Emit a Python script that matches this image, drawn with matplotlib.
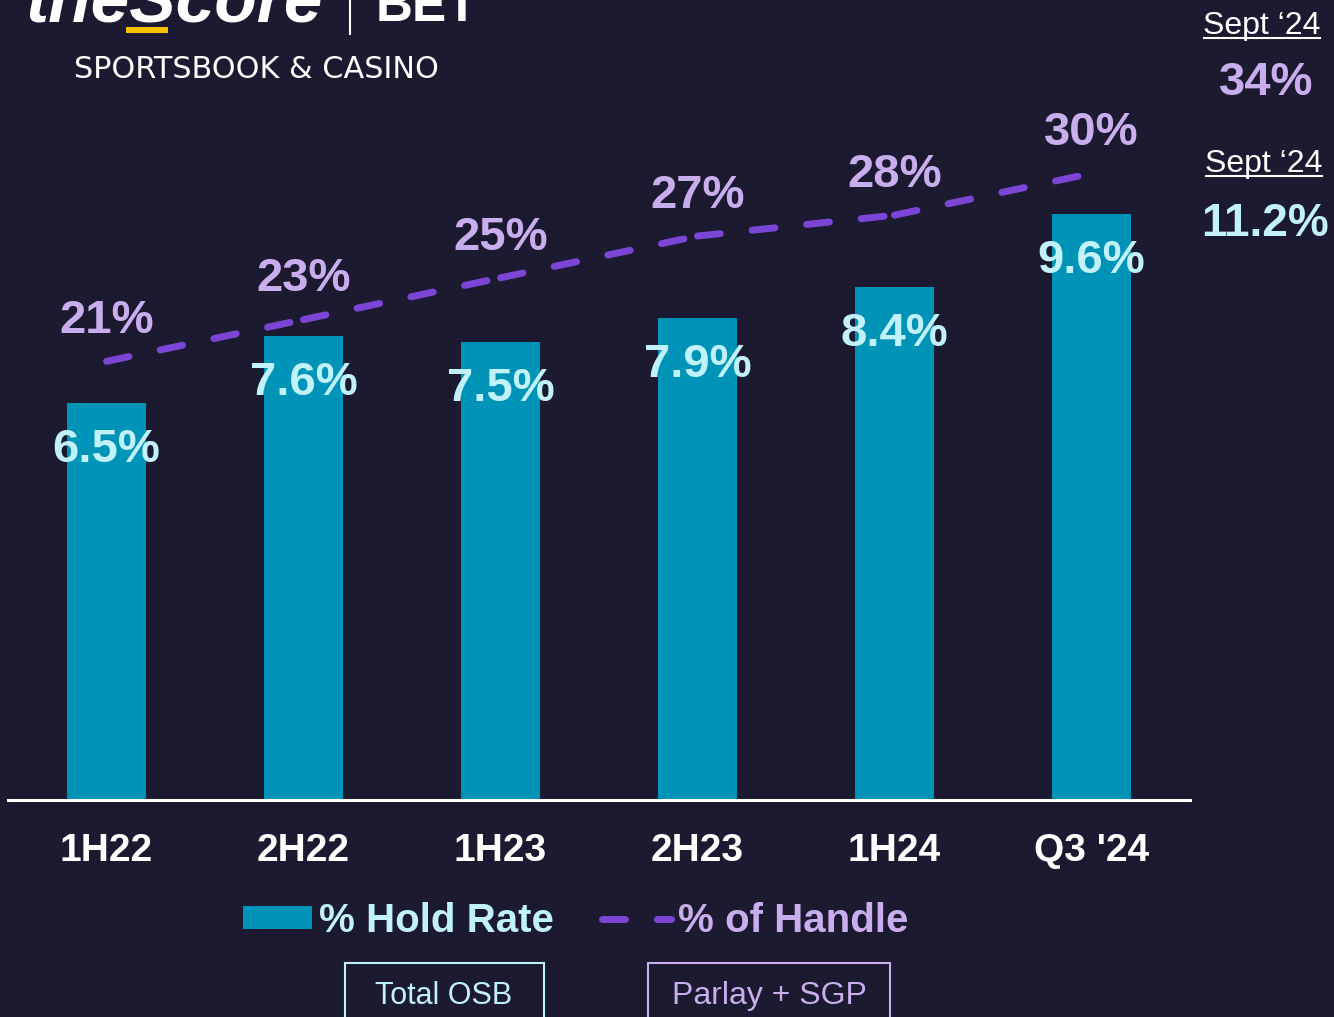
import matplotlib
matplotlib.use('Agg')
import matplotlib.pyplot as plt
from matplotlib.patches import Rectangle
from matplotlib.lines import Line2D

# data
periods = ['1H22', '2H22', '1H23', '2H23', '1H24', "Q3 '24"]
hold_rate = [6.5, 7.6, 7.5, 7.9, 8.4, 9.6]          # % Hold Rate, Total OSB
handle_share = [21, 23, 25, 27, 28, 30]             # % of Handle, Parlay + SGP
sept_handle = 34
sept_hold = 11.2

BG = '#1c1a30'
TEAL = '#0093b8'
PURPLE = '#7b45d6'
LILAC = '#c8aeec'
ICE = '#c1f2fc'
W, H = 1334, 1017

plt.rcParams['font.family'] = ['Liberation Sans', 'DejaVu Sans']


def fx(x):
    return x / W


def fy(y):
    return 1 - y / H


fig = plt.figure(figsize=(W / 100, H / 100), dpi=100, facecolor=BG)
ax = fig.add_axes([fx(8), fy(800), 1182 / W, 800 / H])
ax.set_facecolor('none')
ax2 = ax.twinx()

x = list(range(len(periods)))
bars = ax.bar(x, hold_rate, width=0.4, color=TEAL, zorder=2, label='% Hold Rate')
ax.set_xlim(-0.5, 5.5)
ax.set_ylim(0, 13.1)
ax2.set_ylim(0, 38.3)

for i, v in enumerate(hold_rate):
    ax.annotate(f'{v:.1f}%', (i, v), xytext=(0, -34), textcoords='offset points',
                ha='center', va='center', fontsize=34, fontweight='bold', color=ICE, zorder=3)

# dashed line, pattern restarts at every point (as in the slide)
for i in range(len(x) - 1):
    ax2.plot(x[i:i + 2], handle_share[i:i + 2], color=PURPLE, lw=5, dashes=(3.3, 4.6),
             solid_capstyle='round', dash_capstyle='round', zorder=4)
for i, v in enumerate(handle_share):
    ax2.annotate(f'{v}%', (i, v), xytext=(0, 29), textcoords='offset points',
                 ha='center', va='center', fontsize=34, fontweight='bold', color=LILAC)

for a in (ax, ax2):
    for s in ['top', 'right', 'left']:
        a.spines[s].set_visible(False)
    a.set_yticks([])
ax2.spines['bottom'].set_visible(False)
ax.spines['bottom'].set_color('white')
ax.spines['bottom'].set_linewidth(2.2)
ax.set_xticks(x)
ax.set_xticklabels(periods, fontsize=28, fontweight='bold', color='white')
ax.tick_params(axis='x', length=0, pad=24)

# legend
line_handle = Line2D([0], [0], color=PURPLE, lw=5, dashes=(3.3, 4.6), dash_capstyle='round')
leg = fig.legend([bars, line_handle], ['% Hold Rate', '% of Handle'], loc='center',
                 bbox_to_anchor=(fx(576), fy(921)), ncol=2, frameon=False,
                 prop={'size': 29, 'weight': 'bold'}, handlelength=1.7, handleheight=0.5,
                 handletextpad=0.18, columnspacing=1.2)
for t, c in zip(leg.get_texts(), [ICE, LILAC]):
    t.set_color(c)

# boxes under legend
fig.add_artist(Rectangle((fx(345), fy(1030)), 199 / W, 67 / H, transform=fig.transFigure,
                         fill=False, edgecolor=ICE, lw=1.5))
fig.text(fx(444), fy(996), 'Total OSB', ha='center', va='center', fontsize=22, color=ICE)
fig.add_artist(Rectangle((fx(648), fy(1030)), 242 / W, 67 / H, transform=fig.transFigure,
                         fill=False, edgecolor=LILAC, lw=1.5))
fig.text(fx(769), fy(996), 'Parlay + SGP', ha='center', va='center', fontsize=23, color=LILAC)

# Sept '24 callouts
fig.text(fx(1262), fy(26), 'Sept \u201824', ha='center', va='center', fontsize=23, color='white')
fig.add_artist(Line2D([fx(1204), fx(1320)], [fy(38), fy(38)], transform=fig.transFigure,
                      color='white', lw=1.5))
fig.text(fx(1266), fy(83), f'{sept_handle}%', ha='center', va='center', fontsize=34,
         fontweight='bold', color=LILAC)
fig.text(fx(1264), fy(164), 'Sept \u201824', ha='center', va='center', fontsize=23, color='white')
fig.add_artist(Line2D([fx(1206), fx(1322)], [fy(176), fy(176)], transform=fig.transFigure,
                      color='white', lw=1.5))
fig.text(fx(1265), fy(224), f'{sept_hold}%', ha='center', va='center', fontsize=33,
         fontweight='bold', color=ICE)

# logo (top cut off)
fig.text(fx(25), fy(22), 'theScore', ha='left', va='baseline', fontsize=50,
         fontweight='bold', style='italic', color='white')
fig.add_artist(Rectangle((fx(126), fy(33)), 42 / W, 6 / H, transform=fig.transFigure,
                         color='#f5c000', lw=0))
fig.add_artist(Line2D([fx(350), fx(350)], [fy(0), fy(34)], transform=fig.transFigure,
                      color='white', lw=1.5))
fig.text(fx(376), fy(21), 'BET', ha='left', va='baseline', fontsize=37,
         fontweight='bold', color='white')
fig.text(fx(74), fy(70), 'SPORTSBOOK & CASINO', ha='left', va='center', fontsize=21.8,
         color='white', family=['DejaVu Sans'])

fig.savefig('out.png', dpi=100, facecolor=BG)
